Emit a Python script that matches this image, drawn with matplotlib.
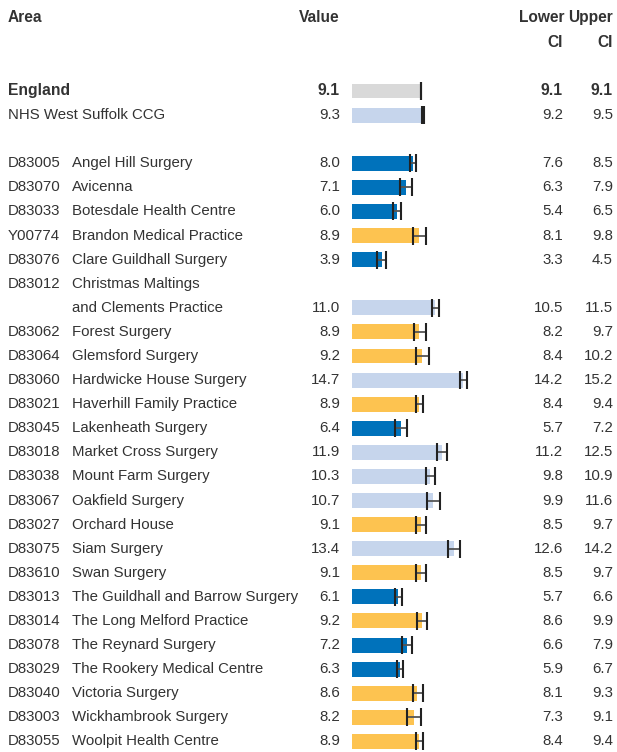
"""Bar chart of practice values with confidence intervals."""

import matplotlib.pyplot as plt
from matplotlib.transforms import blended_transform_factory

codes = ["", "", "D83005", "D83070", "D83033", "Y00774", "D83076", "D83012",
         "D83062", "D83064", "D83060", "D83021", "D83045", "D83018", "D83038",
         "D83067", "D83027", "D83075", "D83610", "D83013", "D83014", "D83078",
         "D83029", "D83040", "D83003", "D83055"]
names = ["England", "NHS West Suffolk CCG", "Angel Hill Surgery", "Avicenna",
         "Botesdale Health Centre", "Brandon Medical Practice",
         "Clare Guildhall Surgery", "Christmas Maltings\nand Clements Practice",
         "Forest Surgery", "Glemsford Surgery", "Hardwicke House Surgery",
         "Haverhill Family Practice", "Lakenheath Surgery",
         "Market Cross Surgery", "Mount Farm Surgery", "Oakfield Surgery",
         "Orchard House", "Siam Surgery", "Swan Surgery",
         "The Guildhall and Barrow Surgery", "The Long Melford Practice",
         "The Reynard Surgery", "The Rookery Medical Centre",
         "Victoria Surgery", "Wickhambrook Surgery", "Woolpit Health Centre"]
values = [9.1, 9.3, 8.0, 7.1, 6.0, 8.9, 3.9, 11.0, 8.9, 9.2, 14.7, 8.9, 6.4,
          11.9, 10.3, 10.7, 9.1, 13.4, 9.1, 6.1, 9.2, 7.2, 6.3, 8.6, 8.2, 8.9]
lower = [9.1, 9.2, 7.6, 6.3, 5.4, 8.1, 3.3, 10.5, 8.2, 8.4, 14.2, 8.4, 5.7,
         11.2, 9.8, 9.9, 8.5, 12.6, 8.5, 5.7, 8.6, 6.6, 5.9, 8.1, 7.3, 8.4]
upper = [9.1, 9.5, 8.5, 7.9, 6.5, 9.8, 4.5, 11.5, 9.7, 10.2, 15.2, 9.4, 7.2,
         12.5, 10.9, 11.6, 9.7, 14.2, 9.7, 6.6, 9.9, 7.9, 6.7, 9.3, 9.1, 9.4]
groups = ["eng", "higher", "lower", "lower", "lower", "similar", "lower",
          "higher", "similar", "similar", "higher", "similar", "lower",
          "higher", "higher", "higher", "similar", "higher", "similar",
          "lower", "similar", "lower", "lower", "similar", "similar", "similar"]

palette = {"eng": "#d9d9d9", "higher": "#c6d5ec", "lower": "#0072bb",
           "similar": "#fdc350"}

# row slot for each entry (blank slot after the CCG, two lines for D83012)
slots = []
s = 0
for i, n in enumerate(names):
    if i == 2:
        s += 1
    if "\n" in n:
        s += 1
    slots.append(s)
    s += 1

plt.rcParams["font.family"] = ["Liberation Sans", "DejaVu Sans"]
fig = plt.figure(figsize=(6.17, 7.52), dpi=100)
ax = fig.add_axes([0, 0, 1, 1])
ax.set_xlim(-46.44, 34.96)
ax.set_ylim(27.44, -3.777)
ax.axis("off")

ax.barh(slots, values, height=0.62, left=0,
        color=[palette[g] for g in groups])
xerr = [[v - lo for v, lo in zip(values, lower)],
        [up - v for v, up in zip(values, upper)]]
eb = ax.errorbar(values, slots, xerr=xerr, fmt="none", ecolor="#222222",
                 elinewidth=1.3, capsize=6.8, capthick=1.5)
for lc in eb[2]:
    lc.set_color("#555555")

tr = blended_transform_factory(fig.transFigure, ax.transData)
fs = 10.8
txt = "#333333"


def put(x, y, s, **kw):
    kw.setdefault("fontsize", fs)
    kw.setdefault("color", txt)
    ax.text(x / 617, y, s, transform=tr, va="center", **kw)


hdr = dict(fontweight="bold", fontsize=11.2)
put(8, -3.03, "Area", **hdr)
put(340, -3.03, "Value", ha="right", **hdr)
put(564, -3.03, "Lower", ha="right", **hdr)
put(613, -3.03, "Upper", ha="right", **hdr)
put(563, -2.03, "CI", ha="right", **hdr)
put(613, -2.03, "CI", ha="right", **hdr)

for i, (c, n, v, lo, up, y) in enumerate(zip(codes, names, values, lower,
                                              upper, slots)):
    kw = dict(fontweight="bold", fontsize=11.3) if i == 0 else {}
    if c:
        put(8, y - (1 if "\n" in n else 0), c)
        lines = n.split("\n")
        for k, line in enumerate(lines):
            put(72, y - (len(lines) - 1 - k), line)
    else:
        put(8, y, n, **kw)
    put(340, y, f"{v:.1f}", ha="right", **kw)
    put(563, y, f"{lo:.1f}", ha="right", **kw)
    put(613, y, f"{up:.1f}", ha="right", **kw)

fig.savefig("out.png", dpi=100)
